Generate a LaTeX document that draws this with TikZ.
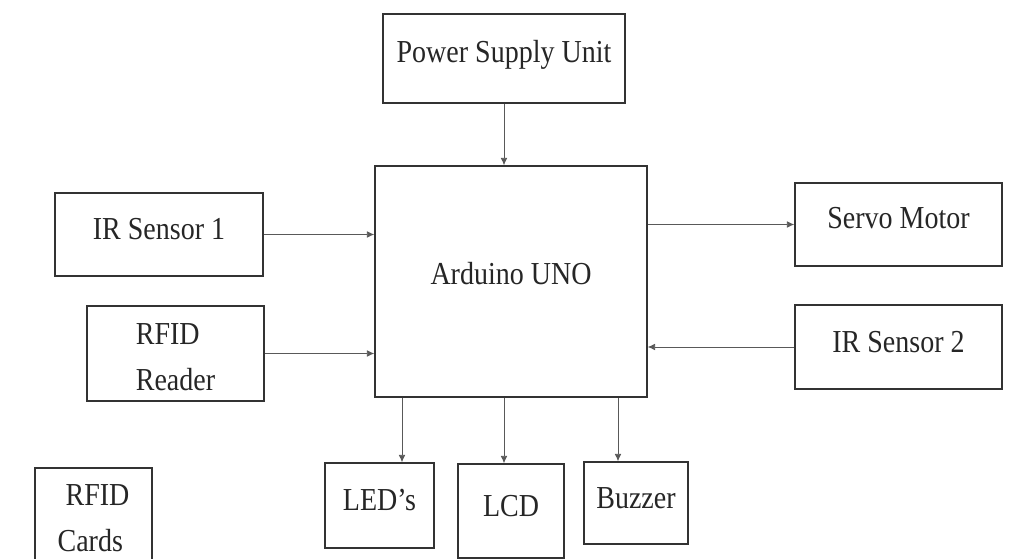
\documentclass[tikz,border=0pt]{standalone}
\usepackage{fontspec}
\setmainfont{Liberation Serif}
\newfontfamily\boxfont[FakeStretch=0.875,Ligatures=TeX]{Liberation Serif}
\usetikzlibrary{arrows.meta}
\begin{document}
\begin{tikzpicture}[x=0.75pt,y=-0.75pt,
  box/.style={draw=black!80, line width=1.1pt, inner sep=0pt, text=black!85, font=\boxfont\fontsize{24}{34}\selectfont},
  tb/.style={text height=#1, text depth=0pt},
  td/.style={text height=0pt, text depth=#1},
  arr/.style={draw=black!65, line width=0.6pt, -{Latex[length=5.5pt,width=5pt]}}]
\useasboundingbox (0,0) rectangle (1011,559);
\clip (0,0) rectangle (1011,559);
\fill[white] (0,0) rectangle (1011,559);
\node[box, tb=6.3pt, minimum width=181.5pt, minimum height=66.75pt] (psu) at (504,58.5) {Power Supply Unit};
\node[box, tb=5.25pt, minimum width=204pt, minimum height=173.25pt] (ard) at (511,281.5) {Arduino UNO};
\node[box, tb=8.25pt, minimum width=156pt, minimum height=62.25pt] (ir1) at (159,234.5) {IR Sensor 1};
\node[box, td=12.75pt, minimum width=132.75pt, minimum height=71.25pt] (rfr) at (175.5,353.5) {\begin{tabular}[t]{@{}l@{}}RFID\\Reader\end{tabular}};
\node[box, tb=6.75pt, minimum width=155.25pt, minimum height=62.25pt] (servo) at (898.5,224.5) {Servo Motor};
\node[box, tb=7.95pt, minimum width=155.25pt, minimum height=63pt] (ir2) at (898.5,347) {IR Sensor 2};
\node[box, tb=7.8pt, minimum width=81.75pt, minimum height=63.75pt] (leds) at (379.5,505.5) {LED’s};
\node[box, tb=8.55pt, minimum width=79.5pt, minimum height=70.5pt] (lcd) at (511,511) {LCD};
\node[box, tb=9pt, minimum width=78pt, minimum height=61.5pt] (buz) at (636,503) {Buzzer};
\node[box, td=27pt, minimum width=87.75pt, minimum height=84pt] (rfc) at (93.5,524) {\begin{tabular}[t]{@{}l@{}}\hspace*{6pt}RFID\\Cards\end{tabular}};
\coordinate (c1) at (402,0);
\coordinate (c2) at (504,0);
\coordinate (c3) at (618,0);
\draw[arr] (psu.south) -- (psu.south |- ard.north);
\draw[arr] (ir1.east) -- (ir1.east -| ard.west);
\draw[arr] (rfr.east) -- (rfr.east -| ard.west);
\draw[arr] (ard.east |- servo.west) -- (servo.west);
\draw[arr] (ir2.west) -- (ir2.west -| ard.east);
\draw[arr] (ard.south -| c1) -- (leds.north -| c1);
\draw[arr] (ard.south -| c2) -- (lcd.north -| c2);
\draw[arr] (ard.south -| c3) -- (buz.north -| c3);
\end{tikzpicture}
\end{document}
